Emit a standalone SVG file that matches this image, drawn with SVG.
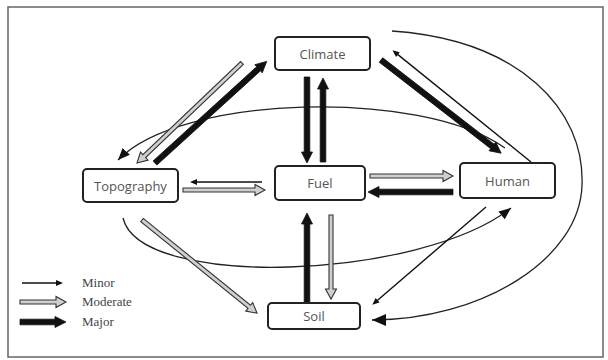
<svg xmlns="http://www.w3.org/2000/svg" width="608" height="360" viewBox="0 0 608 360">
<style>
.box{fill:#fff;stroke:#222;stroke-width:2}
.lbl{font-family:"Open Sans","Liberation Sans",sans-serif;font-size:13px;fill:#555;text-anchor:middle;dominant-baseline:central}
.leg{font-family:"Liberation Serif",serif;font-size:13px;fill:#444}
.maj{fill:#111;stroke:#111;stroke-width:0.8}
.mod{fill:#cfcfcf;stroke:#333;stroke-width:1.1}
.min{fill:#111}
.crv{fill:none;stroke:#222;stroke-width:1.3}
</style>
<defs>
<marker id="ah" markerWidth="12" markerHeight="10" refX="12" refY="5" orient="auto" markerUnits="userSpaceOnUse"><path d="M0,0 L12,5 L0,10 Z" fill="#111"/></marker>
<marker id="ahb" markerWidth="14" markerHeight="12" refX="14" refY="6" orient="auto" markerUnits="userSpaceOnUse"><path d="M0,0 L14,6 L0,12 Z" fill="#111"/></marker>
</defs>
<rect x="0" y="0" width="608" height="360" fill="#fff"/>
<rect x="8" y="7" width="595" height="350" fill="none" stroke="#666" stroke-width="1.5"/>

<g id="connectors">
<path class="crv" d="M505,148 C420,88 180,95 118,160" marker-end="url(#ah)"/>
<path class="crv" d="M123,218 C140,290 420,280 511,208" marker-end="url(#ah)"/>
<path class="crv" d="M392,31 C520,40 585,110 582,185 C580,260 480,320 372,320" marker-end="url(#ahb)"/>
<path class="maj" transform="translate(307,77) rotate(90)" d="M0,-2.8 H75 V-5.5 L86,0 L75,5.5 V2.8 H0 Z"/>
<path class="maj" transform="translate(323,162) rotate(-90)" d="M0,-2.8 H73 V-5.5 L84,0 L73,5.5 V2.8 H0 Z"/>
<path class="maj" transform="translate(155,163) rotate(-42.3)" d="M0,-2.8 H140 V-5.5 L151,0 L140,5.5 V2.8 H0 Z"/>
<path class="maj" transform="translate(381,60) rotate(37.8)" d="M0,-2.8 H141 V-5.5 L152,0 L141,5.5 V2.8 H0 Z"/>
<path class="maj" transform="translate(453,192) rotate(180)" d="M0,-2.8 H74 V-5.5 L85,0 L74,5.5 V2.8 H0 Z"/>
<path class="maj" transform="translate(307,302) rotate(-90)" d="M0,-2.8 H78 V-5.5 L89,0 L78,5.5 V2.8 H0 Z"/>
<path class="mod" transform="translate(242,63) rotate(136.4)" d="M0,-2 H135 V-5.5 L145,0 L135,5.5 V2 H0 Z"/>
<path class="mod" transform="translate(183,190)" d="M0,-2 H72 V-5.5 L82,0 L72,5.5 V2 H0 Z"/>
<path class="mod" transform="translate(370,176)" d="M0,-2 H73 V-5.5 L83,0 L73,5.5 V2 H0 Z"/>
<path class="mod" transform="translate(331,215) rotate(90)" d="M0,-2 H74 V-5.5 L84,0 L74,5.5 V2 H0 Z"/>
<path class="mod" transform="translate(142,220) rotate(39)" d="M0,-2 H138 V-5.5 L148,0 L138,5.5 V2 H0 Z"/>
<path class="min" transform="translate(262,182) rotate(180)" d="M0,-0.7 H65 V-3 L72,0 L65,3 V0.7 H0 Z"/>
<path class="min" transform="translate(531,162) rotate(-141.1)" d="M0,-0.7 H171 V-3 L178,0 L171,3 V0.7 H0 Z"/>
<path class="min" transform="translate(486,207) rotate(139.3)" d="M0,-0.7 H143 V-3 L150,0 L143,3 V0.7 H0 Z"/>
</g>

<g id="climate"><rect class="box" x="275" y="37" width="95" height="33" rx="4"/><text class="lbl" x="322.5" y="54">Climate</text></g>
<g id="topography"><rect class="box" x="83" y="169" width="95" height="33" rx="4"/><text class="lbl" x="130.5" y="186">Topography</text></g>
<g id="fuel"><rect class="box" x="275" y="166" width="90" height="34" rx="4"/><text class="lbl" x="320" y="183">Fuel</text></g>
<g id="human"><rect class="box" x="460" y="163" width="95" height="35" rx="4"/><text class="lbl" x="507.5" y="181">Human</text></g>
<g id="soil"><rect class="box" x="268" y="303" width="92" height="26" rx="4"/><text class="lbl" x="314" y="316">Soil</text></g>

<g id="legend">
<path class="min" transform="translate(22,283)" d="M0,-0.8 H34 V-3 L41,0 L34,3 V0.8 H0 Z"/>
<path class="mod" transform="translate(20,302)" d="M0,-2 H36 V-5.5 L46,0 L36,5.5 V2 H0 Z"/>
<path class="maj" transform="translate(20,322)" d="M0,-2.8 H35 V-5.5 L46,0 L35,5.5 V2.8 H0 Z"/>
<text class="leg" x="82" y="287">Minor</text>
<text class="leg" x="82" y="306">Moderate</text>
<text class="leg" x="82" y="326">Major</text>
</g>
</svg>
